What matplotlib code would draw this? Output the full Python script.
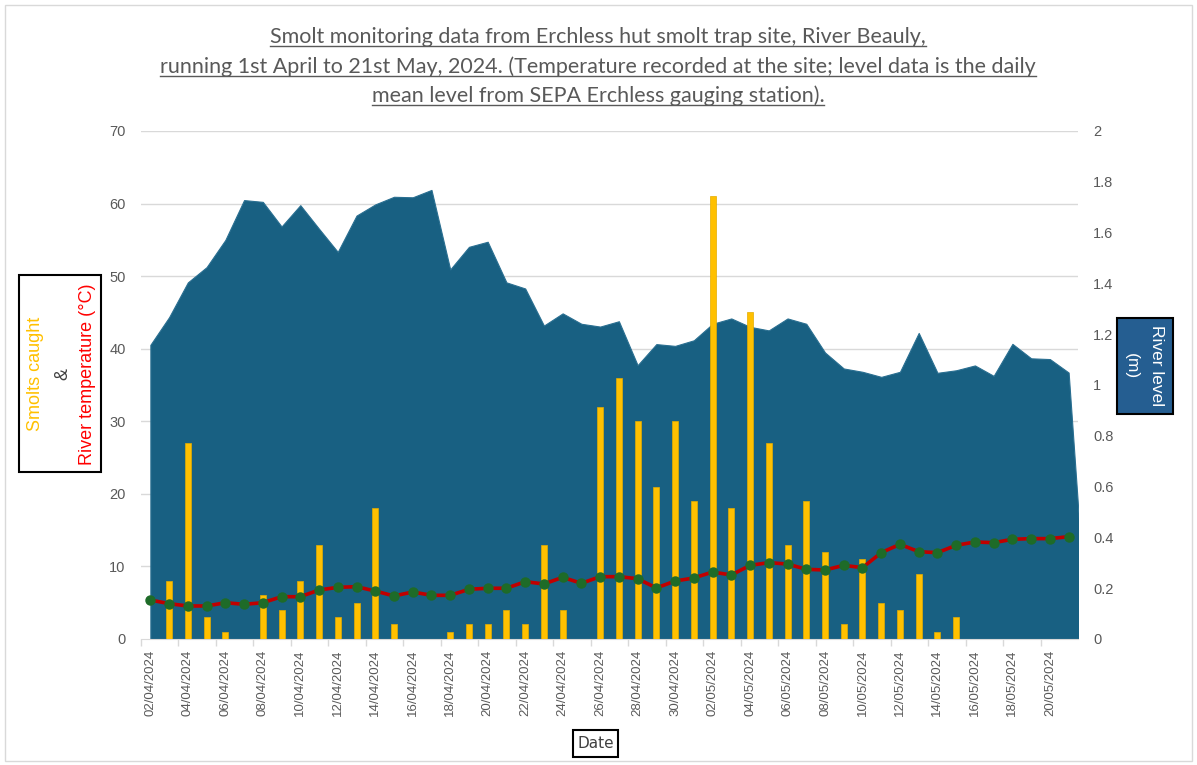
import matplotlib
matplotlib.use('Agg')
import matplotlib.pyplot as plt
from matplotlib.patches import Rectangle
from matplotlib.lines import Line2D
import pandas as pd

# one row per day, 02/04/2024 - 22/05/2024 (no level reading on the 22nd)
dates = pd.date_range('2024-04-02', '2024-05-22', freq='D')

smolts = [0, 8, 27, 3, 1, 0, 6, 4, 8, 13,
          3, 5, 18, 2, 0, 0, 1, 2, 2, 4,
          2, 13, 4, 0, 32, 36, 30, 21, 30, 19,
          61, 18, 45, 27, 13, 19, 12, 2, 11, 5,
          4, 9, 1, 3, 0, 0, 0, 0, 0, 0]

temperature = [5.37, 4.87, 4.55, 4.55, 5.0, 4.78, 5.0, 5.83, 5.83, 6.75,
               7.12, 7.21, 6.61, 5.93, 6.48, 6.02, 6.02, 6.85, 6.99, 6.99,
               7.90, 7.58, 8.50, 7.67, 8.59, 8.59, 8.31, 7.03, 7.99, 8.41,
               9.23, 8.82, 10.15, 10.52, 10.33, 9.60, 9.51, 10.15, 9.83, 11.9,
               13.05, 12.03, 11.9, 12.91, 13.37, 13.27, 13.74, 13.83, 13.83, 14.1]

river_level = [1.158, 1.267, 1.404, 1.464, 1.571, 1.728, 1.721, 1.624, 1.708, 1.615,
               1.524, 1.667, 1.711, 1.741, 1.739, 1.768, 1.455, 1.544, 1.564, 1.404,
               1.380, 1.234, 1.282, 1.241, 1.230, 1.251, 1.078, 1.161, 1.154, 1.176,
               1.241, 1.262, 1.229, 1.215, 1.262, 1.241, 1.128, 1.065, 1.052, 1.032,
               1.052, 1.205, 1.048, 1.058, 1.077, 1.036, 1.162, 1.105, 1.102, 1.049,
               0.0]

left_ticks = [0, 10, 20, 30, 40, 50, 60, 70]
right_ticks = [0, 0.2, 0.4, 0.6, 0.8, 1, 1.2, 1.4, 1.6, 1.8, 2]

title_lines = ['Smolt monitoring data from Erchless hut smolt trap site, River Beauly,',
               'running 1st April to 21st May, 2024. (Temperature recorded at the site; level data is the daily',
               'mean level from SEPA Erchless gauging station).']

W, H = 1197, 765
GREY = '#595959'
TICKFONT = 'Liberation Sans'


def fx(x):
    return x / W


def fy(y):
    return 1 - y / H


fig = plt.figure(figsize=(W / 100, H / 100), dpi=100)
fig.patch.set_facecolor('white')

# chart border
fig.add_artist(Rectangle((fx(5), fy(761)), fx(1187), 756 / H, transform=fig.transFigure,
                         fill=False, edgecolor='#D9D9D9', lw=1))

# plot area: x 141..1078, y 131..639 px
ax = fig.add_axes([fx(141), fy(639), fx(1078 - 141), (639 - 131) / H])
axc = ax.twinx()

# river level (area) on the right axis, behind everything
ax.fill_between(dates, river_level, 0, color='#186082', lw=0.8, edgecolor='#2a6f91', zorder=2)
for v in left_ticks[1:]:
    ax.axhline(v * 2 / 70, color='#D9D9D9', lw=1, zorder=1)
ax.set_ylim(0, 2)
ax.set_yticks(right_ticks)
ax.set_yticklabels([f'{t:g}' for t in right_ticks])
ax.yaxis.tick_right()
ax.tick_params(axis='y', length=0, pad=11, labelsize=10.5, labelcolor=GREY,
               left=False, labelleft=False, right=False, labelright=True)

# smolts + temperature on the left axis, in front
axc.bar(dates[:50], smolts, width=0.32, color='#FFC000', edgecolor='#E3AC00', lw=0.5, zorder=3)
axc.plot(dates[:50], temperature, color='#C00000', lw=2.6, zorder=4,
         marker='o', markersize=6.5, markerfacecolor='#1E6B28', markeredgecolor='#1E6B28')
axc.set_ylim(0, 70)
axc.set_yticks(left_ticks)
axc.yaxis.tick_left()
axc.tick_params(axis='y', length=0, pad=11, labelsize=10.5, labelcolor=GREY,
                right=False, labelright=False, left=False, labelleft=True)

ax.set_xlim(dates[0] - pd.Timedelta(hours=12), dates[49] + pd.Timedelta(hours=12))
ax.set_xticks(dates[:50:2])
ax.set_xticklabels([d.strftime('%d/%m/%Y') for d in dates[:50:2]], rotation=90)
ax.set_xticks(dates[:50:2] - pd.Timedelta(hours=12), minor=True)
ax.tick_params(axis='x', which='major', length=0, pad=8, labelsize=9.5, labelcolor=GREY)
ax.tick_params(axis='x', which='minor', length=5, color='#D9D9D9', width=1)

for a in (ax, axc):
    for s in ('top', 'left', 'right'):
        a.spines[s].set_visible(False)
    a.spines['bottom'].set_color('#D9D9D9')
    for lab in a.get_xticklabels() + a.get_yticklabels():
        lab.set_fontfamily(TICKFONT)
axc.spines['bottom'].set_visible(False)

# title, underlined
baselines = [43, 73, 102]
title_texts = []
for line, yb in zip(title_lines, baselines):
    t = fig.text(fx(598), fy(yb), line, ha='center', va='baseline', fontsize=15.5,
                 color=GREY, family='Lato')
    title_texts.append((t, yb))

# left axis title box
fig.add_artist(Rectangle((fx(19), fy(472)), fx(82), (472 - 275) / H, transform=fig.transFigure,
                         fill=False, edgecolor='black', lw=1.5))
fig.text(fx(36), fy(374), 'Smolts caught', rotation=90, ha='center', va='center',
         fontsize=13, color='#FFC000', family='Liberation Sans')
fig.text(fx(63), fy(374), '&', rotation=90, ha='center', va='center',
         fontsize=13, color='#404040', family='Liberation Sans')
fig.text(fx(88), fy(374), 'River temperature (°C)', rotation=90, ha='center', va='center',
         fontsize=13, color='#FF0000', family='Liberation Sans')

# right axis title box
fig.add_artist(Rectangle((fx(1117), fy(414)), fx(56), (414 - 318) / H, transform=fig.transFigure,
                         facecolor='#255E91', edgecolor='black', lw=1.5))
fig.text(fx(1157), fy(366), 'River level', rotation=270, ha='center', va='center',
         fontsize=12.5, color='white', family='Liberation Sans')
fig.text(fx(1131), fy(366), '(m)', rotation=270, ha='center', va='center',
         fontsize=12.5, color='white', family='Liberation Sans')

# x axis title box
fig.add_artist(Rectangle((fx(573), fy(757)), fx(45), (757 - 730) / H, transform=fig.transFigure,
                         fill=False, edgecolor='black', lw=1.5))
fig.text(fx(595.5), fy(744), 'Date', ha='center', va='center',
         fontsize=11, color='#404040', family='Liberation Sans Narrow')

# underline the title lines
fig.canvas.draw()
r = fig.canvas.get_renderer()
for t, yb in title_texts:
    bb = t.get_window_extent(r)
    fig.add_artist(Line2D([bb.x0 / W, bb.x1 / W], [fy(yb + 3), fy(yb + 3)],
                          transform=fig.transFigure, color=GREY, lw=1))

fig.savefig('out.png', dpi=100, facecolor='white')
